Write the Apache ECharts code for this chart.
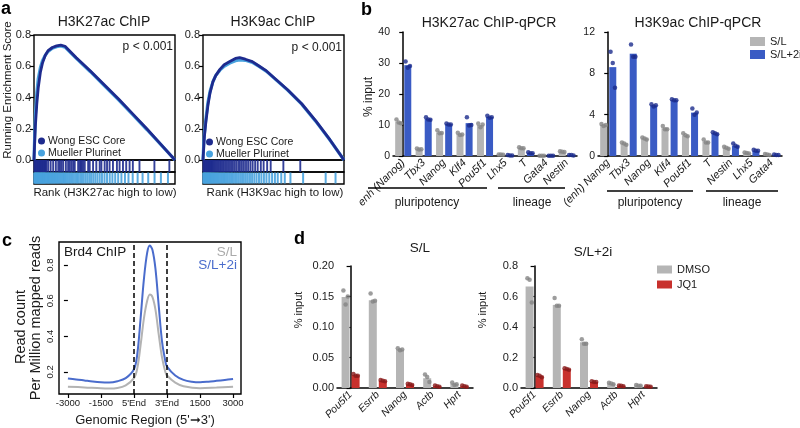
<!DOCTYPE html>
<html><head><meta charset="utf-8">
<script src="https://cdn.jsdelivr.net/npm/echarts@6/dist/echarts.min.js"></script>
<style>html,body{margin:0;padding:0;background:#fff}#c{width:800px;height:428px}</style>
</head><body><div id="c"></div>
<script>
// ================= DATA =================
// Panel a: running enrichment score curves [rank fraction, score]
const k27Wong = [[0,0],[0.005,0.12],[0.01,0.22],[0.02,0.36],[0.03,0.46],[0.045,0.56],[0.06,0.62],[0.08,0.67],[0.1,0.7],[0.13,0.72],[0.16,0.73],[0.19,0.735],[0.22,0.728],[0.3,0.655],[0.4,0.57],[0.5,0.48],[0.6,0.39],[0.7,0.295],[0.8,0.2],[0.9,0.1],[1,0]];
const k27Mueller = [[0,0],[0.005,0.16],[0.01,0.29],[0.02,0.43],[0.03,0.52],[0.045,0.59],[0.06,0.635],[0.08,0.67],[0.1,0.695],[0.13,0.715],[0.16,0.725],[0.19,0.73],[0.22,0.722],[0.3,0.65],[0.4,0.565],[0.5,0.475],[0.6,0.385],[0.7,0.29],[0.8,0.195],[0.9,0.098],[1,0]];
const k9Wong = [[0,0],[0.005,0.08],[0.01,0.15],[0.02,0.24],[0.035,0.35],[0.05,0.43],[0.07,0.5],[0.09,0.54],[0.12,0.58],[0.15,0.61],[0.19,0.63],[0.23,0.65],[0.26,0.655],[0.3,0.645],[0.35,0.63],[0.4,0.6],[0.45,0.57],[0.5,0.53],[0.6,0.45],[0.7,0.36],[0.8,0.25],[0.9,0.13],[1,0]];
const k9Mueller = [[0,0],[0.005,0.1],[0.01,0.17],[0.02,0.26],[0.035,0.37],[0.05,0.44],[0.07,0.5],[0.09,0.54],[0.12,0.575],[0.15,0.6],[0.19,0.62],[0.23,0.635],[0.26,0.64],[0.3,0.638],[0.35,0.625],[0.4,0.597],[0.45,0.567],[0.5,0.527],[0.6,0.447],[0.7,0.357],[0.8,0.247],[0.9,0.128],[1,0]];
// hit positions (rank fraction)
const k27WongHits = [0.003,0.008,0.013,0.018,0.023,0.028,0.033,0.038,0.043,0.048,0.053,0.058,0.063,0.068,0.073,0.078,0.083,0.089,0.101,0.118,0.136,0.155,0.172,0.184,0.195,0.207,0.226,0.242,0.254,0.266,0.278,0.289,0.313,0.325,0.332,0.339,0.348,0.36,0.384,0.395,0.419,0.442,0.466,0.478,0.501,0.518,0.536,0.56,0.588,0.607,0.631,0.654,0.678,0.701,0.748,0.854,0.96];
const k27MuellerHits = [0.002,0.006,0.01,0.014,0.019,0.023,0.027,0.031,0.036,0.04,0.045,0.05,0.054,0.058,0.063,0.068,0.072,0.077,0.082,0.088,0.094,0.1,0.105,0.111,0.118,0.124,0.13,0.137,0.143,0.15,0.158,0.165,0.172,0.18,0.188,0.196,0.205,0.213,0.222,0.23,0.24,0.25,0.26,0.27,0.282,0.293,0.305,0.316,0.328,0.34,0.352,0.365,0.378,0.392,0.405,0.42,0.435,0.45,0.466,0.482,0.5,0.518,0.537,0.556,0.576,0.597,0.62,0.645,0.67,0.7,0.735,0.77,0.81,0.855,0.9,0.95];
const k9WongHits = [0.003,0.008,0.013,0.018,0.023,0.028,0.033,0.038,0.043,0.048,0.053,0.058,0.063,0.068,0.074,0.081,0.088,0.096,0.104,0.112,0.121,0.13,0.139,0.148,0.158,0.168,0.178,0.19,0.2,0.212,0.224,0.236,0.25,0.262,0.276,0.29,0.305,0.32,0.336,0.352,0.37,0.388,0.41,0.43,0.455,0.48,0.57,0.69];
const k9MuellerHits = [0.002,0.006,0.011,0.015,0.02,0.025,0.03,0.035,0.04,0.045,0.05,0.056,0.062,0.068,0.074,0.08,0.087,0.094,0.101,0.108,0.116,0.124,0.132,0.14,0.149,0.158,0.167,0.176,0.186,0.196,0.206,0.217,0.228,0.24,0.252,0.264,0.277,0.29,0.304,0.318,0.333,0.348,0.364,0.38,0.397,0.414,0.432,0.45,0.47,0.49,0.51,0.53,0.555,0.58,0.62,0.71,0.87,0.94];

// Panel b
const bK27Cats = ['enh (Nanog)','Tbx3','Nanog','Klf4','Pou5f1','Lhx5','T','Gata4','Nestin'];
const bK27SL = [11.0, 2.2, 7.6, 7.0, 10.0, 0.5, 2.6, 0.1, 1.4];
const bK27SL2i = [29.3, 12.0, 10.3, 10.6, 12.6, 0.2, 1.0, 0.1, 0.3];
const bK27SLPts = [[11.8,10.8,10.6],[2.4,2.1,2.2],[8.3,7.3,7.4],[7.5,6.8,6.9],[10.5,9.3,10.2],[0.5,0.5,0.4],[2.8,2.5,2.5],[0.1,0.1,0.1],[1.5,1.4,1.3]];
const bK27SL2iPts = [[30.5,28.5,29.0],[12.5,11.8,11.7],[10.5,10.2,10.2],[12.5,9.8,10.0],[13.0,12.3,12.5],[0.3,0.2,0.2],[1.2,0.9,0.9],[0.1,0.1,0.1],[0.3,0.3,0.2]];
const bK9Cats = ['(enh) Nanog','Tbx3','Nanog','Klf4','Pou5f1','T','Nestin','Lhx5','Gata4'];
const bK9SL = [3.0, 1.2, 1.7, 2.7, 2.0, 1.4, 0.8, 0.3, 0.15];
const bK9SL2i = [8.6, 9.9, 4.9, 5.4, 4.2, 2.2, 1.0, 0.5, 0.1];
const bK9SLPts = [[3.1,2.9,3.0],[1.3,1.2,1.1],[1.8,1.7,1.6],[2.9,2.6,2.6],[2.2,2.0,1.9],[1.6,1.3,1.3],[0.9,0.8,0.7],[0.35,0.3,0.25],[0.2,0.15,0.1]];
const bK9SL2iPts = [[10.1,9.0,6.6],[10.8,9.6,9.6],[5.0,4.8,4.9],[5.5,5.4,5.4],[4.6,4.0,4.2],[2.3,2.2,2.1],[1.2,1.0,0.9],[0.6,0.5,0.5],[0.15,0.1,0.1]];
const bK27Ticks = [0,10,20,30,40];
const bK9Ticks = [0,4,8,12];

// Panel c (x: 0=-3000, 1=-1500, 2=5'End, 3=3'End, 4=1500, 5=3000)
const cTickPos = [0,1,2,3,4,5];
const cTickLabels = ['-3000','-1500',"5'End","3'End",'1500','3000'];
const cYTicks = [0.2,0.4,0.6,0.8];
const cBodyBounds = [2,3];
const cSL2i = [[0,0.163],[0.25,0.158],[0.5,0.152],[0.75,0.146],[1,0.142],[1.25,0.141],[1.5,0.148],[1.75,0.165],[2,0.215],[2.1,0.3],[2.2,0.5],[2.3,0.72],[2.4,0.87],[2.48,0.91],[2.56,0.885],[2.65,0.78],[2.75,0.57],[2.85,0.37],[2.95,0.26],[3,0.23],[3.25,0.18],[3.5,0.155],[3.75,0.145],[4,0.142],[4.25,0.145],[4.5,0.15],[4.75,0.155],[5,0.16]];
const cSL = [[0,0.117],[0.5,0.113],[1,0.108],[1.25,0.107],[1.5,0.11],[1.75,0.125],[2,0.165],[2.1,0.22],[2.2,0.35],[2.3,0.5],[2.4,0.6],[2.48,0.635],[2.56,0.62],[2.65,0.55],[2.75,0.41],[2.85,0.28],[2.95,0.2],[3,0.18],[3.25,0.14],[3.5,0.12],[4,0.108],[4.5,0.112],[5,0.117]];

// Panel d
const dCats = ['Pou5f1','Esrrb','Nanog','Actb','Hprt'];
const dSLDMSO = [0.149, 0.144, 0.063, 0.016, 0.007];
const dSLJQ1 = [0.021, 0.012, 0.006, 0.003, 0.003];
const dSLDMSOPts = [[0.160,0.137,0.150],[0.155,0.142,0.143],[0.065,0.062,0.063],[0.022,0.018,0.010],[0.009,0.005,0.006]];
const dSLJQ1Pts = [[0.023,0.020,0.020],[0.013,0.012,0.011],[0.007,0.006,0.005],[0.004,0.003,0.002],[0.004,0.003,0.002]];
const d2iDMSO = [0.665, 0.545, 0.30, 0.03, 0.017];
const d2iJQ1 = [0.08, 0.125, 0.04, 0.015, 0.01];
const d2iDMSOPts = [[0.72,0.71,0.56],[0.59,0.54,0.54],[0.32,0.29,0.29],[0.035,0.03,0.025],[0.02,0.015,0.015]];
const d2iJQ1Pts = [[0.085,0.08,0.07],[0.13,0.125,0.12],[0.045,0.04,0.04],[0.017,0.015,0.012],[0.012,0.01,0.008]];

// ================= STYLE =================
const FF = "'Liberation Sans', Arial, Helvetica, sans-serif";
const NAVY = '#1e2b8e', LBLUE = '#48a2de';
const GRAY = '#b5b5b5', BLUE = '#3a5bc4', RED = '#c8312d';
const GRAYPT = '#858585', BLUEPT = '#1c2c8c', REDPT = '#8a1a1a';
const TXT = '#1a1a1a';

const chart = echarts.init(document.getElementById('c'), null, {renderer:'canvas'});

const box = {show:true, borderColor:'#000', borderWidth:1.4, backgroundColor:'transparent'};
const grids = [
  Object.assign({left:34, top:35, width:141, height:125}, box),   //0
  Object.assign({left:34, top:160, width:141, height:12}, box),   //1
  Object.assign({left:34, top:172, width:141, height:12}, box),   //2
  Object.assign({left:203, top:35, width:141, height:125}, box),  //3
  Object.assign({left:203, top:160, width:141, height:12}, box),  //4
  Object.assign({left:203, top:172, width:141, height:12}, box),  //5
  {left:393, top:32, width:184, height:124},                      //6
  {left:598, top:32, width:184, height:124},                      //7
  Object.assign({left:59, top:242, width:182, height:152}, box),  //8
  {left:337, top:266, width:136, height:122},                     //9
  {left:521, top:266, width:136, height:122}                      //10
];

const hiddenVal = (gi, min, max) => ({type:'value', gridIndex:gi, min, max, show:false});
const catAxis = (gi, cats, fs) => ({type:'category', gridIndex:gi, data:cats,
  axisLine:{lineStyle:{color:'#000', width:1.5}},
  axisTick:{alignWithLabel:true, length:4, lineStyle:{color:'#000', width:1.2}},
  axisLabel:{rotate:45, interval:0, fontStyle:'italic', fontSize:fs, color:TXT, fontFamily:FF, margin:5}});
const valYAxis = (gi, min, max, interval, fmt, fs) => ({type:'value', gridIndex:gi, min, max, interval,
  axisLine:{show:true, lineStyle:{color:'#000', width:1.5}},
  axisTick:{show:true, length:4, lineStyle:{color:'#000', width:1.2}},
  splitLine:{show:false},
  axisLabel:{fontSize:fs, color:TXT, fontFamily:FF, margin:3, formatter:fmt, showMaxLabel:true}});
const gseaY = gi => ({type:'value', gridIndex:gi, min:0, max:0.8, interval:0.2,
  axisLine:{show:false}, axisTick:{show:true, length:4, lineStyle:{color:'#000', width:1.2}},
  splitLine:{show:false},
  axisLabel:{fontSize:11, color:TXT, fontFamily:FF, margin:3, formatter:v=>v.toFixed(1)}});

const xAxes = [
  hiddenVal(0,0,1), hiddenVal(1,0,1), hiddenVal(2,0,1),
  hiddenVal(3,0,1), hiddenVal(4,0,1), hiddenVal(5,0,1),
  catAxis(6, bK27Cats, 11), hiddenVal(6,-0.5,bK27Cats.length-0.5),
  catAxis(7, bK9Cats, 11), hiddenVal(7,-0.5,bK9Cats.length-0.5),
  {type:'value', gridIndex:8, min:-0.27, max:5.24,
    axisLine:{show:false}, splitLine:{show:false},
    axisTick:{show:true, customValues:cTickPos, length:4, lineStyle:{color:'#000', width:1.2}},
    axisLabel:{customValues:cTickPos, fontSize:9.5, color:TXT, fontFamily:FF, margin:4,
      formatter:v=>cTickLabels[cTickPos.indexOf(v)]}},
  catAxis(9, dCats, 10.5), hiddenVal(9,-0.5,dCats.length-0.5),
  catAxis(10, dCats, 10.5), hiddenVal(10,-0.5,dCats.length-0.5)
];
const yAxes = [
  gseaY(0), hiddenVal(1,0,1), hiddenVal(2,0,1),
  gseaY(3), hiddenVal(4,0,1), hiddenVal(5,0,1),
  valYAxis(6, bK27Ticks[0], bK27Ticks[bK27Ticks.length-1], 10, v=>String(v), 10.5),
  valYAxis(7, bK9Ticks[0], bK9Ticks[bK9Ticks.length-1], 4, v=>String(v), 10.5),
  {type:'value', gridIndex:8, min:0.076, max:0.93,
    axisLine:{show:false}, splitLine:{show:false},
    axisTick:{show:true, customValues:cYTicks, length:4, lineStyle:{color:'#000', width:1.2}},
    axisLabel:{customValues:cYTicks, rotate:90, fontSize:9.5, color:TXT, fontFamily:FF, margin:4, formatter:v=>v.toFixed(1)}},
  valYAxis(9, 0, 0.2, 0.05, v=>v.toFixed(2), 11),
  valYAxis(10, 0, 0.8, 0.2, v=>v.toFixed(1), 11)
];

const series = [];
// GSEA curves & strips
function gsea(gMain, gTop, gBot, wong, mueller, wongHits, muellerHits){
  series.push({type:'line', name:'Mueller Plurinet', xAxisIndex:gMain, yAxisIndex:gMain, data:mueller,
    showSymbol:false, symbol:'circle', color:LBLUE, lineStyle:{width:3.2, color:LBLUE}, itemStyle:{color:LBLUE}, z:2});
  series.push({type:'line', name:'Wong ESC Core', xAxisIndex:gMain, yAxisIndex:gMain, data:wong,
    showSymbol:false, symbol:'circle', color:NAVY, lineStyle:{width:2.8, color:NAVY}, itemStyle:{color:NAVY}, z:3});
  series.push({type:'scatter', xAxisIndex:gTop, yAxisIndex:gTop, silent:true, symbol:'rect', symbolSize:[1.9,12],
    itemStyle:{color:NAVY, opacity:0.9}, data:wongHits.map(v=>[v,0.5])});
  series.push({type:'scatter', xAxisIndex:gBot, yAxisIndex:gBot, silent:true, symbol:'rect', symbolSize:[2,11],
    itemStyle:{color:LBLUE, opacity:0.9}, data:muellerHits.map(v=>[v,0.5])});
}
gsea(0,1,2,k27Wong,k27Mueller,k27WongHits,k27MuellerHits);
gsea(3,4,5,k9Wong,k9Mueller,k9WongHits,k9MuellerHits);

// Bar panels with replicate points
function barPanel(catX, valX, yi, v1, v2, p1, p2, n1, n2, c1, c2, pc1, pc2, barW, gapPct, catW, ptSize){
  const gapPx = barW*gapPct/100;
  const off = (barW+gapPx)/2/catW;
  const jit = 2.2/catW;
  series.push({type:'bar', name:n1, xAxisIndex:catX, yAxisIndex:yi, data:v1, barWidth:barW, barGap:gapPct+'%', itemStyle:{color:c1}, z:2});
  series.push({type:'bar', name:n2, xAxisIndex:catX, yAxisIndex:yi, data:v2, barWidth:barW, barGap:gapPct+'%', itemStyle:{color:c2}, z:2});
  const pts = (arr, sign) => arr.flatMap((reps,i)=>reps.map((v,r)=>[i+sign*off+(r-1)*jit, v]));
  series.push({type:'scatter', name:n1+' pts', xAxisIndex:valX, yAxisIndex:yi, data:pts(p1,-1), symbolSize:ptSize, itemStyle:{color:pc1}, z:4, silent:true});
  series.push({type:'scatter', name:n2+' pts', xAxisIndex:valX, yAxisIndex:yi, data:pts(p2,1), symbolSize:ptSize, itemStyle:{color:pc2}, z:4, silent:true});
}
barPanel(6,7,6,bK27SL,bK27SL2i,bK27SLPts,bK27SL2iPts,'S/L','S/L+2i',GRAY,BLUE,GRAYPT,BLUEPT,7,30,184/9,4.5);
barPanel(8,9,7,bK9SL,bK9SL2i,bK9SLPts,bK9SL2iPts,'S/L','S/L+2i',GRAY,BLUE,GRAYPT,BLUEPT,7,30,184/9,4.5);
barPanel(11,12,9,dSLDMSO,dSLJQ1,dSLDMSOPts,dSLJQ1Pts,'DMSO','JQ1',GRAY,RED,GRAYPT,REDPT,8,25,136/5,4.5);
barPanel(13,14,10,d2iDMSO,d2iJQ1,d2iDMSOPts,d2iJQ1Pts,'DMSO','JQ1',GRAY,RED,GRAYPT,REDPT,8,25,136/5,4.5);

// Panel c lines
series.push({type:'line', name:'Brd4 S/L', xAxisIndex:10, yAxisIndex:8, data:cSL, smooth:0.35, showSymbol:false,
  lineStyle:{width:2, color:'#b3b3b3'}, itemStyle:{color:'#b3b3b3'}});
series.push({type:'line', name:'Brd4 S/L+2i', xAxisIndex:10, yAxisIndex:8, data:cSL2i, smooth:0.35, showSymbol:false,
  lineStyle:{width:2, color:'#4a6ccc'}, itemStyle:{color:'#4a6ccc'},
  markLine:{silent:true, symbol:['none','none'], label:{show:false},
    lineStyle:{type:[5,3], color:'#000', width:1.5}, data:cBodyBounds.map(v=>({xAxis:v}))}});

const legendBase = {orient:'vertical', padding:0, textStyle:{fontFamily:FF, color:TXT}, selectedMode:false};
const legends = [
  Object.assign({}, legendBase, {data:['Wong ESC Core','Mueller Plurinet'], left:38, top:135, icon:'circle', itemWidth:7, itemHeight:7, itemGap:0,
    textStyle:{fontFamily:FF, color:TXT, fontSize:10.5, lineHeight:12, padding:[0,0,0,-2]}}),
  Object.assign({}, legendBase, {data:['Wong ESC Core','Mueller Plurinet'], left:206, top:136, icon:'circle', itemWidth:7, itemHeight:7, itemGap:0,
    textStyle:{fontFamily:FF, color:TXT, fontSize:10.5, lineHeight:12, padding:[0,0,0,-2]}}),
  Object.assign({}, legendBase, {data:['S/L','S/L+2i'], left:750, top:36, icon:'rect', itemWidth:15, itemHeight:9, itemGap:2,
    textStyle:{fontFamily:FF, color:TXT, fontSize:11, lineHeight:11}}),
  Object.assign({}, legendBase, {data:['DMSO','JQ1'], left:657, top:264, icon:'rect', itemWidth:15, itemHeight:8, itemGap:4,
    textStyle:{fontFamily:FF, color:TXT, fontSize:11, lineHeight:10}})
];

function T(text, x, y, o){
  o = o || {};
  return {type:'text', x, y, rotation:o.rot||0, z:10,
    style:{text, fontSize:o.fs||12, fontFamily:FF, fontWeight:o.fw||'normal', fill:o.fill||TXT,
      textAlign:o.align||'center', textVerticalAlign:'middle', align:o.align||'center', verticalAlign:'middle'}};
}
function L(x1,y1,x2,y2){ return {type:'line', z:10, shape:{x1,y1,x2,y2}, style:{stroke:'#000', lineWidth:1.5}}; }
const R90 = Math.PI/2;
const graphics = [
  T('a', 1, 9, {fs:18, fw:'bold', align:'left', fill:'#000'}),
  T('b', 361, 10, {fs:18, fw:'bold', align:'left', fill:'#000'}),
  T('c', 2, 241, {fs:18, fw:'bold', align:'left', fill:'#000'}),
  T('d', 294, 239, {fs:18, fw:'bold', align:'left', fill:'#000'}),
  T('H3K27ac ChIP', 104, 22, {fs:14}),
  T('H3K9ac ChIP', 273, 22, {fs:14}),
  T('p < 0.001', 173, 47, {fs:12, align:'right'}),
  T('p < 0.001', 342, 48, {fs:12, align:'right'}),
  T('Running Enrichment Score', 8, 90, {fs:11.5, rot:R90}),
  T('Rank (H3K27ac high to low)', 105, 193, {fs:11.5}),
  T('Rank (H3K9ac high to low)', 275, 193, {fs:11.5}),
  T('H3K27ac ChIP-qPCR', 489, 23, {fs:14}),
  T('H3K9ac ChIP-qPCR', 698, 23, {fs:14}),
  T('% input', 369, 97, {fs:12, rot:R90}),
  L(368,188,487,188), T('pluripotency', 427, 203, {fs:12}),
  L(498,188,565,188), T('lineage', 532, 203, {fs:12}),
  L(607,191,693,191), T('pluripotency', 650, 203, {fs:12}),
  L(706,191,778,191), T('lineage', 742, 203, {fs:12}),
  T('Brd4 ChIP', 64, 252, {fs:13.5, align:'left'}),
  T('S/L', 237, 252, {fs:13.5, align:'right', fill:'#aaaaaa'}),
  T('S/L+2i', 237, 265, {fs:13.5, align:'right', fill:'#4a6ccc'}),
  T('Read count', 21, 327, {fs:14.5, rot:R90}),
  T('Per Million mapped reads', 36, 318, {fs:14.5, rot:R90}),
  T("Genomic Region (5'\u279E3')", 145, 420, {fs:13}),
  T('S/L', 420, 248, {fs:13.5}),
  T('S/L+2i', 593, 252, {fs:13.5}),
  T('% input', 299, 310, {fs:11, rot:R90}),
  T('% input', 483, 310, {fs:11, rot:R90})
];

chart.setOption({
  animation:false,
  backgroundColor:'#fff',
  textStyle:{fontFamily:FF},
  grid:grids, xAxis:xAxes, yAxis:yAxes, series, legend:legends, graphic:graphics
});
</script></body></html>
